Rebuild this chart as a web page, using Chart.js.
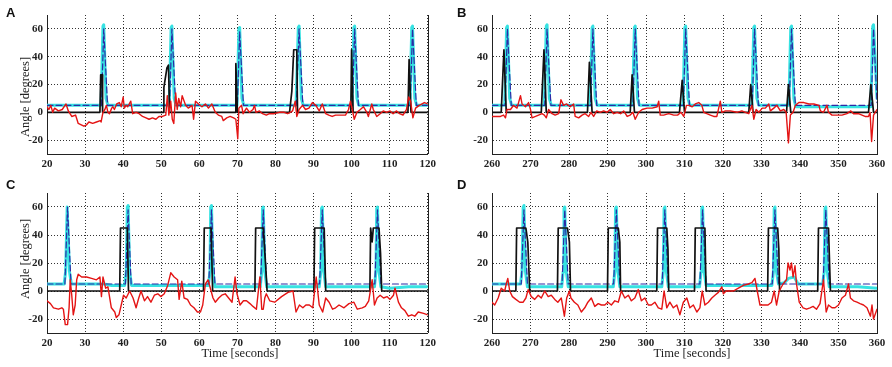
<!DOCTYPE html>
<html>
<head>
<meta charset="utf-8">
<script src="https://cdn.jsdelivr.net/npm/chart.js@4.4.1/dist/chart.umd.min.js"></script>
<style>
body { margin: 0; background: #fff; width: 892px; height: 367px; position: relative; overflow: hidden; }
.box { position: absolute; }
.letter { position: absolute; font: bold 13px "Liberation Sans", Arial, sans-serif; color: #111; line-height: 1; }
.title { position: absolute; font: 12.5px "Liberation Serif", "Times New Roman", serif; color: #222; white-space: nowrap; line-height: 1; }
.rot { transform: translate(-50%, -50%) rotate(-90deg); }
.hor { transform: translate(-50%, -50%); }
</style>
</head>
<body>
<div class="box" style="left:0;top:0;width:440px;height:180px"><canvas id="chartA"></canvas></div>
<div class="box" style="left:440px;top:0;width:452px;height:180px"><canvas id="chartB"></canvas></div>
<div class="box" style="left:0;top:180px;width:440px;height:187px"><canvas id="chartC"></canvas></div>
<div class="box" style="left:440px;top:180px;width:452px;height:187px"><canvas id="chartD"></canvas></div>

<div class="letter" style="left:6px;top:6px">A</div>
<div class="letter" style="left:457px;top:6px">B</div>
<div class="letter" style="left:6px;top:178px">C</div>
<div class="letter" style="left:457px;top:178px">D</div>
<div class="title rot" style="left:25px;top:97px">Angle [degrees]</div>
<div class="title rot" style="left:25px;top:259px">Angle [degrees]</div>
<div class="title hor" style="left:240px;top:353px">Time [seconds]</div>
<div class="title hor" style="left:692px;top:353px">Time [seconds]</div>

<script>
// tick values shared by all panels
const yTicks = [-20, 0, 20, 40, 60];

// panel A (20-120 s)
const aCyan = [[20,5],[34.2,5],[34.7,62],[34.9,63],[35.5,10],[36,5],[52.1,5],[52.6,61],[52.8,62],[53.4,10],[53.9,5],[69.9,5],[70.4,60],[70.6,61],[71.2,10],[71.7,5],[85.4,5],[86,61],[86.2,62],[86.8,10],[87.3,5],[100.1,5],[100.6,61],[100.8,62],[101.4,10],[101.9,5],[115.3,5],[115.8,61],[116,62],[116.6,10],[117.1,5],[120,5]];
const aBlue = [[20,5],[34.3,5],[34.9,60],[35.9,5],[52.2,5],[52.8,60],[53.8,5],[70,5],[70.6,58],[71.6,5],[85.5,5],[86.2,60],[87.2,5],[100.2,5],[100.8,60],[101.8,5],[115.4,5],[116,60],[117,5],[120,5]];
const aBlack = [[20,0],[33.9,0],[34.1,27],[34.5,27],[34.6,0],[50.5,0],[50.7,18],[51.5,32],[51.9,34],[52.2,0],[69.4,0],[69.6,35],[70.0,0],[83.7,0],[84.3,15],[84.8,45],[85.6,45],[85.8,0],[99.8,0],[100.0,45],[100.4,0],[114.8,0],[115.1,38],[115.6,0],[120,0]];
const aRed = [[20,4],[20.5,2],[21,5],[21.5,0],[22,3],[23,1],[24,2],[25,6],[25.6,1],[26.5,-3],[27.5,-2],[28.2,-8],[29,-9],[29.7,-10],[30.4,-9],[31,-7],[32,-8],[33,-7],[34,-6],[34.2,-7],[34.7,0],[35.2,2],[35.6,5],[36,0],[36.4,-1],[37,3],[37.3,4],[37.7,2],[38.3,6],[39,7],[39.5,4],[40,11],[40.3,3],[40.8,5],[41.2,4],[42,8],[42.5,-1],[43.4,0],[44.2,-1],[45.1,-3],[46,-4],[46.8,-5],[47.7,-4],[48.6,-5],[49.4,-3],[50.3,-3],[51.2,-2],[51.6,12],[52,-2],[52.5,8],[52.9,-5],[53.3,-8],[53.8,14],[54.2,2],[54.6,10],[55.1,4],[55.5,12],[56.4,5],[57.1,3],[58.1,5],[58.5,-5],[59,8],[59.8,6],[60.7,4],[61.6,6],[62.4,3],[63.3,6],[64.2,0],[65,-2],[65.9,-3],[66.3,-6],[67.2,-4],[68.1,-3],[69,-4],[69.6,-5],[70.1,-19],[70.4,3],[71.1,5],[71.5,-1],[72.4,3],[73.2,0],[74.1,2],[74.5,5],[74.9,0],[75.8,1],[76.6,-1],[77.6,-2],[78.4,-1],[79.7,-1],[81,0],[82.3,0],[83.2,-1],[83.9,0],[84.5,1],[85.2,8],[85.6,-3],[86.2,2],[87.1,5],[87.9,2],[88.8,3],[89.7,7],[90.6,5],[91.5,1],[92.3,6],[93.2,-1],[94,-2],[94.9,-3],[95.8,-2],[97.1,-2],[98.4,-2],[99.2,2],[99.7,8],[100.1,3],[100.7,-5],[101.4,0],[102.3,2],[103.1,4],[104,0],[104.4,-3],[105.3,6],[105.7,2],[106.6,-3],[107.5,-1],[108.3,1],[109.2,0],[110.1,1],[110.9,-1],[111.8,1],[112.6,-1],[113.5,-2],[114.4,2],[115,11],[115.5,8],[116.1,-4],[116.8,3],[117.8,5],[119.1,7],[120,6]];

// panel B (260-360 s)
const bCyan = [[260,5],[263.3,5],[263.8,61],[264,62],[264.6,10],[265.1,5],[273.6,5],[274.1,62],[274.3,63],[274.9,10],[275.4,5],[285.5,5],[286,61],[286.2,62],[286.8,10],[287.3,5],[296.5,5],[297,61],[297.2,62],[297.8,10],[298.3,5],[309.6,5],[310.1,61],[310.3,62],[310.9,10],[311.4,5],[327.5,5],[328,61],[328.2,62],[328.8,10],[329.3,5],[337.1,5],[337.6,61],[337.8,62],[338.4,10],[338.9,4],[358.4,4],[358.9,62],[359.1,63],[360,10]];
const bBlue = [[260,5],[263.4,5],[264,60],[265,5],[273.7,5],[274.3,60],[275.3,5],[285.6,5],[286.2,60],[287.2,5],[296.6,5],[297.2,60],[298.2,5],[309.7,5],[310.3,60],[311.3,5],[327.6,5],[328.2,60],[329.2,5],[337.2,5],[337.8,60],[338.8,5],[358.5,5],[359.1,60],[360,7]];
const bBlack = [[260,0],[262.4,0],[263.1,45],[263.7,0],[272.8,0],[273.5,45],[274.1,0],[284.8,0],[285.3,36],[286,0],[295.9,0],[296.4,27],[297,0],[308.7,0],[309.4,23],[310,0],[326.7,0],[327.2,20],[327.8,0],[336.5,0],[337,20],[337.6,0],[357.8,0],[358.4,20],[359.1,0],[360,0]];
const bRed = [[260,-3],[261.3,-3],[262.2,-3],[263,-2],[263.5,-4],[263.9,2],[264.8,2],[265.6,5],[266.5,3],[267.4,12],[267.8,6],[268.7,4],[269.5,7],[270,2],[270.4,-4],[271.3,-3],[272.1,-2],[273,-1],[273.6,-2],[274.1,-4],[274.7,2],[275.6,-1],[276.4,-2],[277.3,-1],[277.9,9],[278.6,5],[279.4,6],[280.3,4],[281.2,6],[281.6,-3],[282.5,-4],[283.4,-2],[284.2,-1],[285.1,-3],[285.7,0],[286.4,-3],[287.2,1],[288.1,0],[289,1],[289.9,0],[290.7,2],[291.6,-1],[292.5,0],[293.4,-1],[294.2,1],[295.1,-3],[295.9,-2],[296.6,0],[297.2,-5],[298.1,0],[299,2],[300.3,3],[301.6,3],[302.9,4],[303.3,8],[303.7,-2],[304.6,-2],[305.9,-1],[307.2,-2],[308.2,-2],[309.1,0],[309.8,-3],[310.5,5],[311.1,5],[312,4],[312.8,6],[313.7,7],[314.5,5],[315,0],[315.8,-1],[316.7,-2],[317.6,-3],[318.4,-3],[319.3,8],[319.7,0],[320.6,1],[321.9,1],[323.6,0],[324.9,1],[325.8,0],[326.7,-1],[327.5,5],[328,-5],[328.6,2],[329.3,0],[330.2,3],[331,3],[331.9,6],[332.3,1],[333.2,3],[334,5],[334.9,1],[335.8,2],[336.4,0],[337,-22],[337.5,-2],[338.2,0],[338.8,5],[339.7,7],[341,7],[342.3,6],[343.6,6],[344.9,5],[345.3,1],[346.1,0],[347,5],[347.4,0],[348.3,-2],[349.6,-2],[350.9,-2],[352.2,-1],[353.2,1],[353.9,-1],[355.2,-1],[356.1,-2],[356.9,-3],[357.8,-3],[358.2,0],[358.6,-21],[359.1,-2],[360,2]];

// panel C (20-120 s)
const cCyan = [[20,5],[24.5,5],[24.9,14],[25.3,60],[25.5,60],[25.9,14],[26.4,5],[35,5],[37,4],[40.4,4],[40.8,14],[41.1,60],[41.3,61],[41.7,14],[42.2,4],[62.4,4],[62.8,14],[63,60],[63.2,61],[63.6,14],[64.1,3],[76,3],[76.4,14],[76.6,59],[76.8,60],[77.2,14],[77.7,3],[91.5,3],[91.9,14],[92.1,59],[92.3,60],[92.7,14],[93.2,3],[106,3],[106.4,14],[106.6,59],[106.8,60],[107.2,14],[107.7,3],[110,2],[115,3],[120,3]];
const cBlue = [[20,5],[24.7,5],[25.4,60],[26.3,5],[40.6,5],[41.3,58],[42.1,5],[62.5,5],[63.2,58],[64.1,5],[76.1,5],[76.8,58],[77.7,5],[91.6,5],[92.3,58],[93.2,5],[106.1,5],[106.8,58],[107.7,5],[120,5]];
const cBlack = [[20,0],[39.1,0],[39.3,45],[41.1,45],[41.4,0],[61.1,0],[61.3,45],[63.1,45],[63.5,0],[74.6,0],[74.8,45],[76.8,45],[77.6,10],[77.8,0],[90.1,0],[90.3,45],[92.8,45],[93.2,0],[104.8,0],[105,45],[105.4,35],[105.7,45],[107.2,45],[107.6,27],[107.9,0],[120,0]];
const cRed = [[20,-7],[20.9,-9],[21.7,-12],[23,-13],[23.9,-12],[24.3,-13],[24.8,-24],[25.4,-24],[25.8,-12],[26.1,8],[26.5,-3],[26.9,-17],[27.4,-10],[27.8,8],[28.2,12],[29.1,10],[30.4,10],[31.7,9],[33,8],[33.9,10],[34.3,-4],[34.7,10],[35.4,2],[36,3],[36.9,-12],[37.8,-15],[38.2,-19],[38.9,-17],[39.5,-10],[40.1,-3],[40.8,-5],[41.7,0],[42.6,-5],[43.4,-12],[44.1,-5],[44.7,0],[45.6,-7],[46.4,-4],[47.3,-8],[48.2,-3],[49.1,-2],[49.9,-4],[50.8,-2],[51.7,4],[52.5,13],[53.4,10],[54.3,8],[54.7,-6],[55.4,7],[56,-5],[56.9,-6],[57.7,-10],[58.6,-12],[59.5,-15],[60.3,-15],[60.9,-10],[61.6,5],[62.3,8],[62.9,2],[63.6,-5],[64.2,-8],[65.1,-5],[65.9,-3],[66.8,-2],[67.7,-5],[68.6,-8],[69.4,10],[69.9,-2],[70.7,-10],[71.6,-7],[72.4,-7],[73.3,-9],[74.1,-11],[75,-13],[75.9,10],[76.4,-13],[76.8,-13],[77.2,-5],[77.6,-2],[78.5,-7],[79.8,-8],[81.6,-4],[83.3,-1],[84.6,0],[85.4,-15],[86.3,-10],[87.2,-12],[88,-10],[88.9,-10],[89.8,-12],[90.7,10],[91.5,-10],[92.4,-15],[93.2,-5],[94.1,-8],[95,-13],[95.8,-12],[96.7,-10],[98,-12],[99.3,-9],[100.6,-8],[101.5,-13],[102.8,-12],[103.6,-11],[104.5,-7],[105.4,8],[106,-10],[106.7,-5],[107.5,-3],[108.4,-5],[109.3,-4],[110.1,-6],[111,-3],[111.4,2],[112.3,-8],[113.1,-12],[114,-14],[114.9,-18],[115.8,-17],[116.6,-18],[117.5,-15],[118.9,-16],[120,-17]];

// panel D (260-360 s)
const dCyan = [[260,5],[267.4,5],[267.8,14],[268.1,60],[268.3,61],[268.7,14],[269.2,3],[278.1,3],[278.5,14],[278.7,59],[278.9,60],[279.3,14],[279.8,3],[291.5,3],[291.9,14],[292.1,59],[292.3,60],[292.7,14],[293.2,3],[304.1,3],[304.5,14],[304.7,59],[304.9,60],[305.3,14],[305.8,3],[313.9,3],[314.3,14],[314.5,59],[314.7,60],[315.1,14],[315.6,4],[332.7,4],[333.1,14],[333.3,59],[333.5,60],[333.9,14],[334.4,5],[336,6],[337,9],[338.5,10],[339.5,5],[345.9,5],[346.3,14],[346.5,59],[346.7,60],[347.1,14],[347.6,3],[355,3],[360,2]];
const dBlue = [[260,5],[267.6,5],[268.3,58],[269.2,5],[278.2,5],[278.9,58],[279.8,5],[291.6,5],[292.3,58],[293.2,5],[304.2,5],[304.9,58],[305.8,5],[314,5],[314.7,58],[315.6,5],[332.8,5],[333.5,58],[334.4,5],[346,5],[346.7,58],[347.6,5],[360,5]];
const dBlack = [[260,0],[266.2,0],[266.4,45],[268.8,45],[269.3,35],[269.8,0],[277,0],[277.2,45],[279.6,45],[280.1,35],[280.4,0],[290,0],[290.2,45],[292.8,45],[293.2,35],[293.4,0],[302.8,0],[303,45],[305.4,45],[305.7,30],[305.9,0],[312.6,0],[312.8,45],[315.3,45],[315.6,0],[331.6,0],[331.8,45],[334.2,45],[334.5,30],[334.7,0],[344.6,0],[344.8,45],[347.4,45],[347.9,0],[360,0]];
const dRed = [[260,-8],[260.7,-10],[261.6,-5],[262.4,2],[263.3,0],[263.7,5],[264.1,9],[264.6,0],[265.3,-4],[266.2,-6],[267.2,-8],[268.1,-8],[268.8,-5],[269.4,1],[270.2,-4],[271.1,-6],[272,-3],[272.8,-5],[273.7,0],[274.6,-4],[275.4,-3],[276.3,-6],[277.1,-8],[278,-5],[278.8,-18],[279.4,-5],[280.1,0],[280.5,-5],[281.4,-8],[282.3,-10],[283.2,-15],[284.1,-12],[284.9,-8],[285.8,-5],[286.7,-11],[287.6,-9],[288.4,-10],[289.3,-10],[290.1,-8],[291,-10],[291.9,-7],[292.8,-8],[293.6,0],[294.5,-5],[295.4,-3],[296.2,-7],[297.1,-5],[298,1],[298.8,-7],[299.7,-5],[300.6,-10],[301.4,-10],[302.3,-8],[303.2,-12],[304.1,-13],[304.7,0],[305.4,-12],[306.2,-8],[307.1,-12],[308,-10],[308.8,-17],[309.7,-8],[310.6,-5],[311.4,-12],[312.3,-10],[313.2,-15],[314,-12],[314.6,0],[315.3,-10],[316.2,-8],[317.1,-5],[317.9,-3],[318.8,-1],[319.7,3],[320.1,-2],[320.8,0],[321.4,0],[322.7,0],[324,2],[325.3,4],[326.6,5],[327.5,6],[328.3,9],[328.9,0],[329.6,-10],[330.9,-10],[331.7,-10],[332.6,-8],[333.3,0],[333.9,-10],[334.6,0],[335.6,5],[336.5,8],[336.9,20],[337.4,15],[337.8,20],[338.2,10],[338.7,18],[339.1,5],[339.8,-8],[340.8,-12],[341.7,-13],[342.6,-12],[343.4,-11],[344.3,-13],[345.2,-9],[346.1,8],[346.8,-15],[347.4,-10],[348.3,-12],[349.1,-12],[350,-10],[350.9,-5],[351.8,-3],[352.6,5],[353.1,-5],[353.9,-7],[354.8,-8],[355.6,-9],[356.5,-10],[357.4,-12],[358.3,-18],[358.7,-10],[359.1,-20],[360,-13]];

const toXY = arr => arr.map(p => ({ x: p[0], y: p[1] }));

// solid right edge of the plot box
const rightEdge = {
    id: 'rightEdge',
    beforeDatasetsDraw(chart) {
        const { ctx, chartArea } = chart;
        ctx.save();
        ctx.strokeStyle = '#222';
        ctx.lineWidth = 1;
        ctx.beginPath();
        ctx.moveTo(Math.round(chartArea.right) + 0.5, chartArea.top);
        ctx.lineTo(Math.round(chartArea.right) + 0.5, chartArea.bottom);
        ctx.stroke();
        ctx.restore();
    }
};

function makePanel(id, xMin, xMax, cyan, blue, black, red, box) {
    const ctx = document.getElementById(id).getContext('2d');
    const tickFont = { family: '"Liberation Serif", "Times New Roman", serif', size: 11, weight: 'bold' };

    new Chart(ctx, {
        type: 'line',
        data: {
            datasets: [
                { data: toXY(red), borderColor: '#e41414', borderWidth: 1.4, order: 0 },
                { data: toXY(black), borderColor: '#111111', borderWidth: 1.7, order: 1 },
                { data: toXY(blue), borderColor: '#2b2ba6', borderWidth: 1.2, borderDash: [6, 3], order: 2 },
                { data: toXY(cyan), borderColor: '#36e2e2', borderWidth: 3, order: 3 }
            ]
        },
        plugins: [rightEdge],
        options: {
            responsive: false,
            animation: false,
            events: [],
            layout: { padding: { top: box.top, right: box.right, left: 0, bottom: 0 } },
            elements: {
                point: { radius: 0 },
                line: { tension: 0, fill: false, borderJoinStyle: 'round', borderCapStyle: 'round' }
            },
            plugins: { legend: { display: false }, tooltip: { enabled: false } },
            scales: {
                x: {
                    type: 'linear',
                    min: xMin,
                    max: xMax,
                    afterFit: s => { s.height = box.xh; },
                    ticks: { stepSize: 10, color: '#222', font: tickFont, padding: 4, maxRotation: 0 },
                    grid: { color: '#333', lineWidth: 1, drawTicks: false },
                    border: { color: '#222', width: 1, dash: [1, 2] }
                },
                y: {
                    min: -30,
                    max: 70,
                    afterFit: s => { s.width = box.yw; },
                    afterBuildTicks: s => { s.ticks = yTicks.map(v => ({ value: v })); },
                    ticks: { color: '#222', font: tickFont, padding: 4 },
                    grid: { color: '#333', lineWidth: 1, drawTicks: false },
                    border: { color: '#222', width: 1, dash: [1, 2] }
                }
            }
        }
    });
}

function sizeCanvas(id, w, h) {
    const c = document.getElementById(id);
    c.width = w; c.height = h;
    c.style.width = w + 'px'; c.style.height = h + 'px';
}

sizeCanvas('chartA', 440, 180);
sizeCanvas('chartB', 452, 180);
sizeCanvas('chartC', 440, 187);
sizeCanvas('chartD', 452, 187);

makePanel('chartA', 20, 120, aCyan, aBlue, aBlack, aRed, { top: 15, right: 8, yw: 47, xh: 26 });
makePanel('chartB', 260, 360, bCyan, bBlue, bBlack, bRed, { top: 15, right: 15, yw: 52, xh: 26 });
makePanel('chartC', 20, 120, cCyan, cBlue, cBlack, cRed, { top: 13, right: 9, yw: 47, xh: 34 });
makePanel('chartD', 260, 360, dCyan, dBlue, dBlack, dRed, { top: 13, right: 15, yw: 52, xh: 34 });
</script>
</body>
</html>
